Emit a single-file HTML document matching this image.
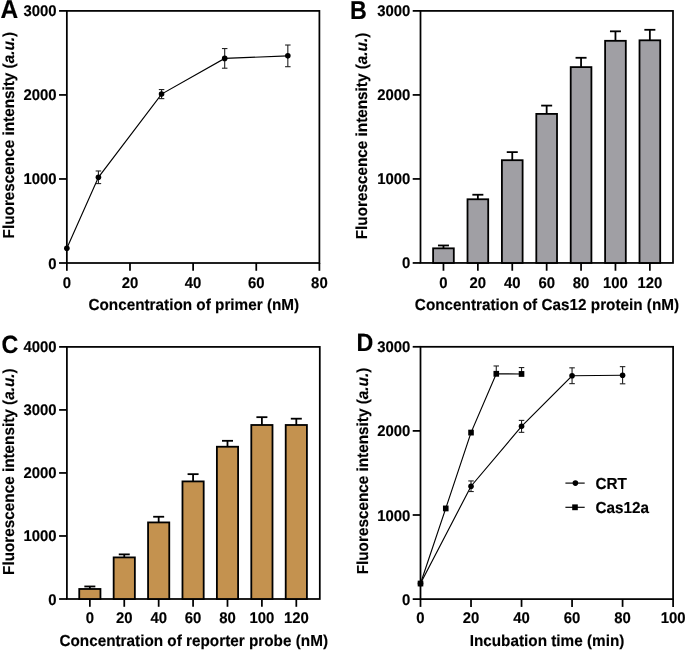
<!DOCTYPE html>
<html><head><meta charset="utf-8"><style>
html,body{margin:0;padding:0;background:#fff;}
body{width:685px;height:650px;overflow:hidden;}
svg{display:block;will-change:transform;}
text{font-family:"Liberation Sans", sans-serif;font-weight:bold;fill:#000;stroke:#000;stroke-width:0.15px;text-rendering:geometricPrecision;}
</style></head><body>
<svg width="685" height="650" viewBox="0 0 685 650">
<rect width="685" height="650" fill="#fff"/>
<rect x="66.85" y="10.90" width="252.55" height="252.10" fill="none" stroke="#000" stroke-width="1.75"/>
<line x1="59.05" y1="263.00" x2="66.85" y2="263.00" stroke="#000" stroke-width="1.75" stroke-linecap="butt"/>
<text transform="translate(56.60,268.50) scale(1.0,1.04)" font-size="14.9" text-anchor="end">0</text>
<line x1="59.05" y1="178.97" x2="66.85" y2="178.97" stroke="#000" stroke-width="1.75" stroke-linecap="butt"/>
<text transform="translate(56.60,184.47) scale(1.0,1.04)" font-size="14.9" text-anchor="end">1000</text>
<line x1="59.05" y1="94.93" x2="66.85" y2="94.93" stroke="#000" stroke-width="1.75" stroke-linecap="butt"/>
<text transform="translate(56.60,100.43) scale(1.0,1.04)" font-size="14.9" text-anchor="end">2000</text>
<line x1="59.05" y1="10.90" x2="66.85" y2="10.90" stroke="#000" stroke-width="1.75" stroke-linecap="butt"/>
<text transform="translate(56.60,16.40) scale(1.0,1.04)" font-size="14.9" text-anchor="end">3000</text>
<line x1="66.85" y1="263.00" x2="66.85" y2="270.80" stroke="#000" stroke-width="1.75" stroke-linecap="butt"/>
<text transform="translate(66.85,288.30) scale(1.0,1.04)" font-size="14.9" text-anchor="middle">0</text>
<line x1="129.99" y1="263.00" x2="129.99" y2="270.80" stroke="#000" stroke-width="1.75" stroke-linecap="butt"/>
<text transform="translate(129.99,288.30) scale(1.0,1.04)" font-size="14.9" text-anchor="middle">20</text>
<line x1="193.12" y1="263.00" x2="193.12" y2="270.80" stroke="#000" stroke-width="1.75" stroke-linecap="butt"/>
<text transform="translate(193.12,288.30) scale(1.0,1.04)" font-size="14.9" text-anchor="middle">40</text>
<line x1="256.26" y1="263.00" x2="256.26" y2="270.80" stroke="#000" stroke-width="1.75" stroke-linecap="butt"/>
<text transform="translate(256.26,288.30) scale(1.0,1.04)" font-size="14.9" text-anchor="middle">60</text>
<line x1="319.40" y1="263.00" x2="319.40" y2="270.80" stroke="#000" stroke-width="1.75" stroke-linecap="butt"/>
<text transform="translate(319.40,288.30) scale(1.0,1.04)" font-size="14.9" text-anchor="middle">80</text>
<text transform="translate(193.80,310.00) scale(1.0,1.04)" font-size="15.3" text-anchor="middle">Concentration of primer (nM)</text>
<text transform="translate(0.50,18.40) scale(1.0,1.06)" font-size="24.5" text-anchor="start">A</text>
<text transform="translate(13.70,135.10) rotate(-90) scale(1,1.04)" font-size="15.3" text-anchor="middle">Fluorescence intensity (<tspan font-style="italic">a.u.</tspan>)</text>
<polyline points="66.85,248.21 98.42,177.29 161.56,94.09 224.69,58.38 287.83,55.86" fill="none" stroke="#000" stroke-width="1.15"/>
<circle cx="66.85" cy="248.21" r="2.8" fill="#000"/>
<line x1="98.42" y1="170.98" x2="98.42" y2="183.59" stroke="#222" stroke-width="1.1" stroke-linecap="butt"/>
<line x1="95.67" y1="170.98" x2="101.17" y2="170.98" stroke="#222" stroke-width="1.1" stroke-linecap="butt"/>
<line x1="95.67" y1="183.59" x2="101.17" y2="183.59" stroke="#222" stroke-width="1.1" stroke-linecap="butt"/>
<circle cx="98.42" cy="177.29" r="2.8" fill="#000"/>
<line x1="161.56" y1="89.56" x2="161.56" y2="98.63" stroke="#222" stroke-width="1.1" stroke-linecap="butt"/>
<line x1="158.81" y1="89.56" x2="164.31" y2="89.56" stroke="#222" stroke-width="1.1" stroke-linecap="butt"/>
<line x1="158.81" y1="98.63" x2="164.31" y2="98.63" stroke="#222" stroke-width="1.1" stroke-linecap="butt"/>
<circle cx="161.56" cy="94.09" r="2.8" fill="#000"/>
<line x1="224.69" y1="48.55" x2="224.69" y2="68.21" stroke="#222" stroke-width="1.1" stroke-linecap="butt"/>
<line x1="221.94" y1="48.55" x2="227.44" y2="48.55" stroke="#222" stroke-width="1.1" stroke-linecap="butt"/>
<line x1="221.94" y1="68.21" x2="227.44" y2="68.21" stroke="#222" stroke-width="1.1" stroke-linecap="butt"/>
<circle cx="224.69" cy="58.38" r="2.8" fill="#000"/>
<line x1="287.83" y1="45.02" x2="287.83" y2="66.70" stroke="#222" stroke-width="1.1" stroke-linecap="butt"/>
<line x1="285.08" y1="45.02" x2="290.58" y2="45.02" stroke="#222" stroke-width="1.1" stroke-linecap="butt"/>
<line x1="285.08" y1="66.70" x2="290.58" y2="66.70" stroke="#222" stroke-width="1.1" stroke-linecap="butt"/>
<circle cx="287.83" cy="55.86" r="2.8" fill="#000"/>
<rect x="420.50" y="10.90" width="252.50" height="252.05" fill="none" stroke="#000" stroke-width="1.75"/>
<line x1="412.70" y1="262.95" x2="420.50" y2="262.95" stroke="#000" stroke-width="1.75" stroke-linecap="butt"/>
<text transform="translate(410.30,268.45) scale(1.0,1.04)" font-size="14.9" text-anchor="end">0</text>
<line x1="412.70" y1="178.93" x2="420.50" y2="178.93" stroke="#000" stroke-width="1.75" stroke-linecap="butt"/>
<text transform="translate(410.30,184.43) scale(1.0,1.04)" font-size="14.9" text-anchor="end">1000</text>
<line x1="412.70" y1="94.92" x2="420.50" y2="94.92" stroke="#000" stroke-width="1.75" stroke-linecap="butt"/>
<text transform="translate(410.30,100.42) scale(1.0,1.04)" font-size="14.9" text-anchor="end">2000</text>
<line x1="412.70" y1="10.90" x2="420.50" y2="10.90" stroke="#000" stroke-width="1.75" stroke-linecap="butt"/>
<text transform="translate(410.30,16.40) scale(1.0,1.04)" font-size="14.9" text-anchor="end">3000</text>
<line x1="443.46" y1="262.95" x2="443.46" y2="270.75" stroke="#000" stroke-width="1.75" stroke-linecap="butt"/>
<text transform="translate(443.46,288.25) scale(1.0,1.04)" font-size="14.9" text-anchor="middle">0</text>
<line x1="477.86" y1="262.95" x2="477.86" y2="270.75" stroke="#000" stroke-width="1.75" stroke-linecap="butt"/>
<text transform="translate(477.86,288.25) scale(1.0,1.04)" font-size="14.9" text-anchor="middle">20</text>
<line x1="512.26" y1="262.95" x2="512.26" y2="270.75" stroke="#000" stroke-width="1.75" stroke-linecap="butt"/>
<text transform="translate(512.26,288.25) scale(1.0,1.04)" font-size="14.9" text-anchor="middle">40</text>
<line x1="546.66" y1="262.95" x2="546.66" y2="270.75" stroke="#000" stroke-width="1.75" stroke-linecap="butt"/>
<text transform="translate(546.66,288.25) scale(1.0,1.04)" font-size="14.9" text-anchor="middle">60</text>
<line x1="581.06" y1="262.95" x2="581.06" y2="270.75" stroke="#000" stroke-width="1.75" stroke-linecap="butt"/>
<text transform="translate(581.06,288.25) scale(1.0,1.04)" font-size="14.9" text-anchor="middle">80</text>
<line x1="615.46" y1="262.95" x2="615.46" y2="270.75" stroke="#000" stroke-width="1.75" stroke-linecap="butt"/>
<text transform="translate(615.46,288.25) scale(1.0,1.04)" font-size="14.9" text-anchor="middle">100</text>
<line x1="649.86" y1="262.95" x2="649.86" y2="270.75" stroke="#000" stroke-width="1.75" stroke-linecap="butt"/>
<text transform="translate(649.86,288.25) scale(1.0,1.04)" font-size="14.9" text-anchor="middle">120</text>
<text transform="translate(547.00,309.95) scale(1.0,1.04)" font-size="15.3" text-anchor="middle">Concentration of Cas12 protein (nM)</text>
<text transform="translate(349.90,19.10) scale(0.95,1.06)" font-size="24.5" text-anchor="start">B</text>
<text transform="translate(367.40,136.00) rotate(-90) scale(1,1.04)" font-size="15.3" text-anchor="middle">Fluorescence intensity (<tspan font-style="italic">a.u.</tspan>)</text>
<line x1="443.46" y1="245.47" x2="443.46" y2="248.33" stroke="#000" stroke-width="1.8" stroke-linecap="butt"/>
<line x1="437.96" y1="245.47" x2="448.96" y2="245.47" stroke="#000" stroke-width="1.8" stroke-linecap="butt"/>
<rect x="433.11" y="248.33" width="20.70" height="14.62" fill="#a09fa4" stroke="#000" stroke-width="1.8"/>
<line x1="477.86" y1="194.73" x2="477.86" y2="199.27" stroke="#000" stroke-width="1.8" stroke-linecap="butt"/>
<line x1="472.36" y1="194.73" x2="483.36" y2="194.73" stroke="#000" stroke-width="1.8" stroke-linecap="butt"/>
<rect x="467.51" y="199.27" width="20.70" height="63.68" fill="#a09fa4" stroke="#000" stroke-width="1.8"/>
<line x1="512.26" y1="152.13" x2="512.26" y2="160.20" stroke="#000" stroke-width="1.8" stroke-linecap="butt"/>
<line x1="506.76" y1="152.13" x2="517.76" y2="152.13" stroke="#000" stroke-width="1.8" stroke-linecap="butt"/>
<rect x="501.91" y="160.20" width="20.70" height="102.75" fill="#a09fa4" stroke="#000" stroke-width="1.8"/>
<line x1="546.66" y1="105.59" x2="546.66" y2="113.90" stroke="#000" stroke-width="1.8" stroke-linecap="butt"/>
<line x1="541.16" y1="105.59" x2="552.16" y2="105.59" stroke="#000" stroke-width="1.8" stroke-linecap="butt"/>
<rect x="536.31" y="113.90" width="20.70" height="149.05" fill="#a09fa4" stroke="#000" stroke-width="1.8"/>
<line x1="581.06" y1="57.78" x2="581.06" y2="67.11" stroke="#000" stroke-width="1.8" stroke-linecap="butt"/>
<line x1="575.56" y1="57.78" x2="586.56" y2="57.78" stroke="#000" stroke-width="1.8" stroke-linecap="butt"/>
<rect x="570.71" y="67.11" width="20.70" height="195.84" fill="#a09fa4" stroke="#000" stroke-width="1.8"/>
<line x1="615.46" y1="31.32" x2="615.46" y2="40.81" stroke="#000" stroke-width="1.8" stroke-linecap="butt"/>
<line x1="609.96" y1="31.32" x2="620.96" y2="31.32" stroke="#000" stroke-width="1.8" stroke-linecap="butt"/>
<rect x="605.11" y="40.81" width="20.70" height="222.14" fill="#a09fa4" stroke="#000" stroke-width="1.8"/>
<line x1="649.86" y1="29.80" x2="649.86" y2="40.31" stroke="#000" stroke-width="1.8" stroke-linecap="butt"/>
<line x1="644.36" y1="29.80" x2="655.36" y2="29.80" stroke="#000" stroke-width="1.8" stroke-linecap="butt"/>
<rect x="639.51" y="40.31" width="20.70" height="222.64" fill="#a09fa4" stroke="#000" stroke-width="1.8"/>
<rect x="66.90" y="346.90" width="252.90" height="252.10" fill="none" stroke="#000" stroke-width="1.75"/>
<line x1="59.10" y1="599.00" x2="66.90" y2="599.00" stroke="#000" stroke-width="1.75" stroke-linecap="butt"/>
<text transform="translate(56.60,604.50) scale(1.0,1.04)" font-size="14.9" text-anchor="end">0</text>
<line x1="59.10" y1="535.98" x2="66.90" y2="535.98" stroke="#000" stroke-width="1.75" stroke-linecap="butt"/>
<text transform="translate(56.60,541.48) scale(1.0,1.04)" font-size="14.9" text-anchor="end">1000</text>
<line x1="59.10" y1="472.95" x2="66.90" y2="472.95" stroke="#000" stroke-width="1.75" stroke-linecap="butt"/>
<text transform="translate(56.60,478.45) scale(1.0,1.04)" font-size="14.9" text-anchor="end">2000</text>
<line x1="59.10" y1="409.92" x2="66.90" y2="409.92" stroke="#000" stroke-width="1.75" stroke-linecap="butt"/>
<text transform="translate(56.60,415.42) scale(1.0,1.04)" font-size="14.9" text-anchor="end">3000</text>
<line x1="59.10" y1="346.90" x2="66.90" y2="346.90" stroke="#000" stroke-width="1.75" stroke-linecap="butt"/>
<text transform="translate(56.60,352.40) scale(1.0,1.04)" font-size="14.9" text-anchor="end">4000</text>
<line x1="89.85" y1="599.00" x2="89.85" y2="606.80" stroke="#000" stroke-width="1.75" stroke-linecap="butt"/>
<text transform="translate(89.85,623.00) scale(1.0,1.04)" font-size="14.9" text-anchor="middle">0</text>
<line x1="124.26" y1="599.00" x2="124.26" y2="606.80" stroke="#000" stroke-width="1.75" stroke-linecap="butt"/>
<text transform="translate(124.26,623.00) scale(1.0,1.04)" font-size="14.9" text-anchor="middle">20</text>
<line x1="158.67" y1="599.00" x2="158.67" y2="606.80" stroke="#000" stroke-width="1.75" stroke-linecap="butt"/>
<text transform="translate(158.67,623.00) scale(1.0,1.04)" font-size="14.9" text-anchor="middle">40</text>
<line x1="193.08" y1="599.00" x2="193.08" y2="606.80" stroke="#000" stroke-width="1.75" stroke-linecap="butt"/>
<text transform="translate(193.08,623.00) scale(1.0,1.04)" font-size="14.9" text-anchor="middle">60</text>
<line x1="227.49" y1="599.00" x2="227.49" y2="606.80" stroke="#000" stroke-width="1.75" stroke-linecap="butt"/>
<text transform="translate(227.49,623.00) scale(1.0,1.04)" font-size="14.9" text-anchor="middle">80</text>
<line x1="261.90" y1="599.00" x2="261.90" y2="606.80" stroke="#000" stroke-width="1.75" stroke-linecap="butt"/>
<text transform="translate(261.90,623.00) scale(1.0,1.04)" font-size="14.9" text-anchor="middle">100</text>
<line x1="296.31" y1="599.00" x2="296.31" y2="606.80" stroke="#000" stroke-width="1.75" stroke-linecap="butt"/>
<text transform="translate(296.31,623.00) scale(1.0,1.04)" font-size="14.9" text-anchor="middle">120</text>
<text transform="translate(193.70,645.80) scale(1.0,1.04)" font-size="15.3" text-anchor="middle">Concentration of reporter probe (nM)</text>
<text transform="translate(1.45,352.80) scale(0.95,1.02)" font-size="24.5" text-anchor="start">C</text>
<text transform="translate(13.70,471.65) rotate(-90) scale(1,1.04)" font-size="15.3" text-anchor="middle">Fluorescence intensity (<tspan font-style="italic">a.u.</tspan>)</text>
<line x1="89.85" y1="586.46" x2="89.85" y2="588.98" stroke="#000" stroke-width="1.8" stroke-linecap="butt"/>
<line x1="84.35" y1="586.46" x2="95.35" y2="586.46" stroke="#000" stroke-width="1.8" stroke-linecap="butt"/>
<rect x="79.25" y="588.98" width="21.20" height="10.02" fill="#c4924f" stroke="#000" stroke-width="1.8"/>
<line x1="124.26" y1="554.38" x2="124.26" y2="557.40" stroke="#000" stroke-width="1.8" stroke-linecap="butt"/>
<line x1="118.76" y1="554.38" x2="129.76" y2="554.38" stroke="#000" stroke-width="1.8" stroke-linecap="butt"/>
<rect x="113.66" y="557.40" width="21.20" height="41.60" fill="#c4924f" stroke="#000" stroke-width="1.8"/>
<line x1="158.67" y1="516.75" x2="158.67" y2="522.42" stroke="#000" stroke-width="1.8" stroke-linecap="butt"/>
<line x1="153.17" y1="516.75" x2="164.17" y2="516.75" stroke="#000" stroke-width="1.8" stroke-linecap="butt"/>
<rect x="148.07" y="522.42" width="21.20" height="76.58" fill="#c4924f" stroke="#000" stroke-width="1.8"/>
<line x1="193.08" y1="474.15" x2="193.08" y2="481.40" stroke="#000" stroke-width="1.8" stroke-linecap="butt"/>
<line x1="187.58" y1="474.15" x2="198.58" y2="474.15" stroke="#000" stroke-width="1.8" stroke-linecap="butt"/>
<rect x="182.48" y="481.40" width="21.20" height="117.60" fill="#c4924f" stroke="#000" stroke-width="1.8"/>
<line x1="227.49" y1="440.81" x2="227.49" y2="446.73" stroke="#000" stroke-width="1.8" stroke-linecap="butt"/>
<line x1="221.99" y1="440.81" x2="232.99" y2="440.81" stroke="#000" stroke-width="1.8" stroke-linecap="butt"/>
<rect x="216.89" y="446.73" width="21.20" height="152.27" fill="#c4924f" stroke="#000" stroke-width="1.8"/>
<line x1="261.90" y1="417.17" x2="261.90" y2="424.99" stroke="#000" stroke-width="1.8" stroke-linecap="butt"/>
<line x1="256.40" y1="417.17" x2="267.40" y2="417.17" stroke="#000" stroke-width="1.8" stroke-linecap="butt"/>
<rect x="251.30" y="424.99" width="21.20" height="174.01" fill="#c4924f" stroke="#000" stroke-width="1.8"/>
<line x1="296.31" y1="418.69" x2="296.31" y2="424.99" stroke="#000" stroke-width="1.8" stroke-linecap="butt"/>
<line x1="290.81" y1="418.69" x2="301.81" y2="418.69" stroke="#000" stroke-width="1.8" stroke-linecap="butt"/>
<rect x="285.71" y="424.99" width="21.20" height="174.01" fill="#c4924f" stroke="#000" stroke-width="1.8"/>
<rect x="420.50" y="346.80" width="252.60" height="252.30" fill="none" stroke="#000" stroke-width="1.75"/>
<line x1="412.70" y1="599.10" x2="420.50" y2="599.10" stroke="#000" stroke-width="1.75" stroke-linecap="butt"/>
<text transform="translate(410.30,604.60) scale(1.0,1.04)" font-size="14.9" text-anchor="end">0</text>
<line x1="412.70" y1="515.00" x2="420.50" y2="515.00" stroke="#000" stroke-width="1.75" stroke-linecap="butt"/>
<text transform="translate(410.30,520.50) scale(1.0,1.04)" font-size="14.9" text-anchor="end">1000</text>
<line x1="412.70" y1="430.90" x2="420.50" y2="430.90" stroke="#000" stroke-width="1.75" stroke-linecap="butt"/>
<text transform="translate(410.30,436.40) scale(1.0,1.04)" font-size="14.9" text-anchor="end">2000</text>
<line x1="412.70" y1="346.80" x2="420.50" y2="346.80" stroke="#000" stroke-width="1.75" stroke-linecap="butt"/>
<text transform="translate(410.30,352.30) scale(1.0,1.04)" font-size="14.9" text-anchor="end">3000</text>
<line x1="420.50" y1="599.10" x2="420.50" y2="606.90" stroke="#000" stroke-width="1.75" stroke-linecap="butt"/>
<text transform="translate(420.50,623.20) scale(1.0,1.04)" font-size="14.9" text-anchor="middle">0</text>
<line x1="471.02" y1="599.10" x2="471.02" y2="606.90" stroke="#000" stroke-width="1.75" stroke-linecap="butt"/>
<text transform="translate(471.02,623.20) scale(1.0,1.04)" font-size="14.9" text-anchor="middle">20</text>
<line x1="521.54" y1="599.10" x2="521.54" y2="606.90" stroke="#000" stroke-width="1.75" stroke-linecap="butt"/>
<text transform="translate(521.54,623.20) scale(1.0,1.04)" font-size="14.9" text-anchor="middle">40</text>
<line x1="572.06" y1="599.10" x2="572.06" y2="606.90" stroke="#000" stroke-width="1.75" stroke-linecap="butt"/>
<text transform="translate(572.06,623.20) scale(1.0,1.04)" font-size="14.9" text-anchor="middle">60</text>
<line x1="622.58" y1="599.10" x2="622.58" y2="606.90" stroke="#000" stroke-width="1.75" stroke-linecap="butt"/>
<text transform="translate(622.58,623.20) scale(1.0,1.04)" font-size="14.9" text-anchor="middle">80</text>
<line x1="673.10" y1="599.10" x2="673.10" y2="606.90" stroke="#000" stroke-width="1.75" stroke-linecap="butt"/>
<text transform="translate(673.10,623.20) scale(1.0,1.04)" font-size="14.9" text-anchor="middle">100</text>
<text transform="translate(547.00,646.40) scale(1.0,1.04)" font-size="15.3" text-anchor="middle">Incubation time (min)</text>
<text transform="translate(356.60,351.40) scale(0.95,1.02)" font-size="24.5" text-anchor="start">D</text>
<text transform="translate(368.00,471.05) rotate(-90) scale(1,1.04)" font-size="15.3" text-anchor="middle">Fluorescence intensity (<tspan font-style="italic">a.u.</tspan>)</text>
<polyline points="420.50,583.54 471.02,486.24 521.54,426.36 572.06,375.73 622.58,375.23" fill="none" stroke="#000" stroke-width="1.15"/>
<circle cx="420.50" cy="583.54" r="2.8" fill="#000"/>
<line x1="471.02" y1="480.94" x2="471.02" y2="491.54" stroke="#222" stroke-width="1.1" stroke-linecap="butt"/>
<line x1="468.27" y1="480.94" x2="473.77" y2="480.94" stroke="#222" stroke-width="1.1" stroke-linecap="butt"/>
<line x1="468.27" y1="491.54" x2="473.77" y2="491.54" stroke="#222" stroke-width="1.1" stroke-linecap="butt"/>
<circle cx="471.02" cy="486.24" r="2.8" fill="#000"/>
<line x1="521.54" y1="420.39" x2="521.54" y2="432.33" stroke="#222" stroke-width="1.1" stroke-linecap="butt"/>
<line x1="518.79" y1="420.39" x2="524.29" y2="420.39" stroke="#222" stroke-width="1.1" stroke-linecap="butt"/>
<line x1="518.79" y1="432.33" x2="524.29" y2="432.33" stroke="#222" stroke-width="1.1" stroke-linecap="butt"/>
<circle cx="521.54" cy="426.36" r="2.8" fill="#000"/>
<line x1="572.06" y1="367.83" x2="572.06" y2="383.64" stroke="#222" stroke-width="1.1" stroke-linecap="butt"/>
<line x1="569.31" y1="367.83" x2="574.81" y2="367.83" stroke="#222" stroke-width="1.1" stroke-linecap="butt"/>
<line x1="569.31" y1="383.64" x2="574.81" y2="383.64" stroke="#222" stroke-width="1.1" stroke-linecap="butt"/>
<circle cx="572.06" cy="375.73" r="2.8" fill="#000"/>
<line x1="622.58" y1="366.65" x2="622.58" y2="383.80" stroke="#222" stroke-width="1.1" stroke-linecap="butt"/>
<line x1="619.83" y1="366.65" x2="625.33" y2="366.65" stroke="#222" stroke-width="1.1" stroke-linecap="butt"/>
<line x1="619.83" y1="383.80" x2="625.33" y2="383.80" stroke="#222" stroke-width="1.1" stroke-linecap="butt"/>
<circle cx="622.58" cy="375.23" r="2.8" fill="#000"/>
<polyline points="420.50,583.54 445.76,508.44 471.02,432.58 496.28,373.80 521.54,373.96" fill="none" stroke="#000" stroke-width="1.15"/>
<rect x="417.70" y="580.64" width="5.6" height="5.8" fill="#000"/>
<rect x="442.96" y="505.54" width="5.6" height="5.8" fill="#000"/>
<rect x="468.22" y="429.68" width="5.6" height="5.8" fill="#000"/>
<line x1="496.28" y1="365.97" x2="496.28" y2="373.80" stroke="#222" stroke-width="1.1" stroke-linecap="butt"/>
<line x1="493.53" y1="365.97" x2="499.03" y2="365.97" stroke="#222" stroke-width="1.1" stroke-linecap="butt"/>
<rect x="493.48" y="370.90" width="5.6" height="5.8" fill="#000"/>
<line x1="521.54" y1="367.57" x2="521.54" y2="373.96" stroke="#222" stroke-width="1.1" stroke-linecap="butt"/>
<line x1="518.79" y1="367.57" x2="524.29" y2="367.57" stroke="#222" stroke-width="1.1" stroke-linecap="butt"/>
<rect x="518.74" y="371.06" width="5.6" height="5.8" fill="#000"/>
<line x1="565.40" y1="483.10" x2="584.70" y2="483.10" stroke="#000" stroke-width="1.15" stroke-linecap="butt"/>
<circle cx="575.4" cy="483.1" r="2.8" fill="#000"/>
<line x1="565.40" y1="507.30" x2="584.70" y2="507.30" stroke="#000" stroke-width="1.15" stroke-linecap="butt"/>
<rect x="572.2" y="504.4" width="5.6" height="5.8" fill="#000"/>
<text transform="translate(595.50,488.60) scale(1.0,1.04)" font-size="15.3" text-anchor="start">CRT</text>
<text transform="translate(595.50,512.80) scale(1.0,1.04)" font-size="15.3" text-anchor="start">Cas12a</text>
</svg>
</body></html>
